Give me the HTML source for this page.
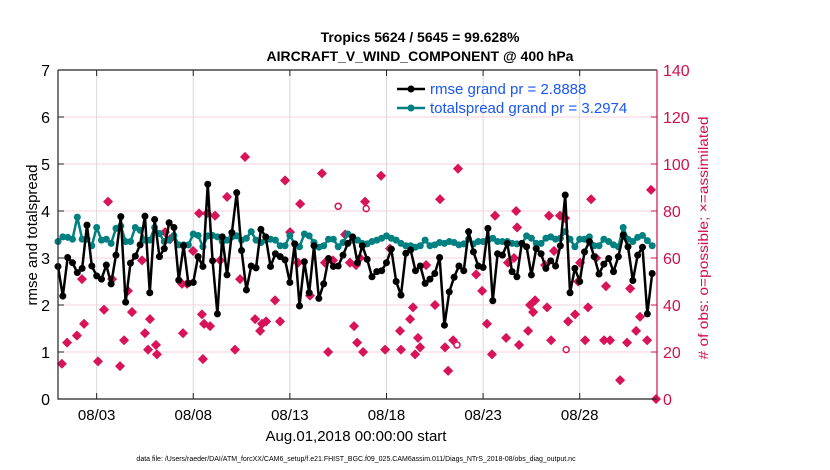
<!DOCTYPE html>
<html><head><meta charset="utf-8">
<style>
html,body{margin:0;padding:0;background:#fff;}
svg{display:block;font-family:"Liberation Sans",sans-serif;}
</style></head>
<body>
<svg id="chart" width="830" height="470" viewBox="0 0 830 470">
<text x="420" y="42" text-anchor="middle" font-size="14" font-weight="bold">Tropics 5624 / 5645 = 99.628%</text>
<text x="420" y="61" text-anchor="middle" font-size="14" font-weight="bold">AIRCRAFT_V_WIND_COMPONENT @ 400 hPa</text>
<g id="grid"></g>
<g id="obs"></g>
<g id="lines"></g>
<g id="axes"></g>
<text transform="translate(37,235) rotate(-90)" text-anchor="middle" font-size="15">rmse and totalspread</text>
<text transform="translate(708,238) rotate(-90)" text-anchor="middle" font-size="14" fill="#d0104c" textLength="243" lengthAdjust="spacingAndGlyphs"># of obs: o=possible; ×=assimilated</text>
<text x="356" y="441" text-anchor="middle" font-size="15">Aug.01,2018 00:00:00 start</text>
<text x="356" y="461" text-anchor="middle" font-size="7">data file: /Users/raeder/DAI/ATM_forcXX/CAM6_setup/f.e21.FHIST_BGC.f09_025.CAM6assim.011/Diags_NTrS_2018-08/obs_diag_output.nc</text>
<g>
<line x1="397" y1="89" x2="425" y2="89" stroke="#000" stroke-width="2.5"/>
<circle cx="411" cy="89" r="3.5" fill="#000"/>
<text x="430" y="94" font-size="15" fill="#1a55f5">rmse grand pr = 2.8888</text>
<line x1="397" y1="108" x2="425" y2="108" stroke="#008080" stroke-width="2.5"/>
<circle cx="411" cy="108" r="3.5" fill="#008080"/>
<text x="430" y="113" font-size="15" fill="#1a55f5">totalspread grand pr = 3.2974</text>
</g>
</svg>
<script>
const xTickDays = [2,7,12,17,22,27];
const xTickLabels = ["08/03","08/08","08/13","08/18","08/23","08/28"];
const yTicks = [0,1,2,3,4,5,6,7];
const y2Ticks = [0,20,40,60,80,100,120,140];
const rmse = [2.82,2.19,3.01,2.90,2.69,2.78,3.70,2.83,2.62,2.55,2.85,2.45,3.06,3.88,2.06,2.89,3.04,3.28,3.89,2.26,3.82,3.03,3.20,3.75,3.65,2.53,3.26,2.46,2.48,3.03,2.82,
4.57,2.94,1.81,3.45,2.64,3.54,4.39,3.16,2.32,2.83,2.79,3.61,3.45,2.82,3.09,3.03,2.96,2.48,3.30,1.98,2.92,2.26,3.26,2.14,2.45,2.99,2.82,2.83,3.06,3.31,
3.45,2.90,3.26,2.97,2.60,2.71,2.73,2.90,3.19,2.50,2.21,3.10,3.17,2.73,2.83,2.46,2.55,2.67,3.01,1.57,2.28,2.59,2.83,2.73,3.56,3.13,2.83,2.80,3.63,2.09,3.09,
3.06,3.31,2.71,2.60,3.31,3.24,2.64,3.20,3.09,2.78,2.94,2.83,3.26,4.34,2.26,2.78,2.50,3.13,3.35,3.03,2.66,2.87,2.99,2.71,3.03,3.49,3.24,2.52,3.06,3.23,1.81,2.67];
const spread = [3.35,3.45,3.44,3.40,3.87,3.40,3.40,3.26,3.65,3.38,3.40,3.31,3.63,3.68,3.35,3.35,3.65,3.59,3.38,3.38,3.65,3.52,3.35,3.38,3.48,3.28,3.28,3.28,3.51,3.48,3.24,
3.47,3.48,3.45,3.35,3.38,3.45,3.47,3.38,3.42,3.56,3.38,3.33,3.38,3.40,3.38,3.26,3.26,3.48,3.30,3.24,3.51,3.47,3.33,3.23,3.26,3.40,3.40,3.24,3.33,3.51,
3.38,3.38,3.31,3.30,3.35,3.38,3.42,3.47,3.42,3.38,3.31,3.26,3.26,3.23,3.26,3.38,3.26,3.28,3.33,3.31,3.35,3.33,3.28,3.30,3.40,3.30,3.35,3.35,3.38,3.42,3.35,
3.35,3.35,3.31,3.30,3.30,3.47,3.42,3.31,3.31,3.42,3.45,3.40,3.42,3.56,3.40,3.24,3.40,3.40,3.45,3.26,3.26,3.40,3.35,3.28,3.24,3.65,3.40,3.35,3.44,3.48,3.37,3.26];
const obsDay = [0.2,0.47,0.98,1.24,1.35,2.07,2.38,2.59,2.8,3.21,3.42,3.62,3.83,4.35,4.5,4.66,4.76,5.07,5.12,5.54,5.8,6.42,6.47,6.68,6.99,7.3,7.45,7.5,7.56,7.71,7.87,8.13,8.39,8.75,9.16,9.42,9.68,10.2,10.46,10.56,10.77,11.23,11.49,11.75,12.01,12.42,12.53,13.04,13.66,13.82,14.23,13.98,14.86,15.11,15.32,15.42,15.48,15.63,15.79,15.89,16.72,16.93,17.18,17.7,17.75,18.22,18.37,18.48,18.63,18.74,19.05,19.51,19.77,20.03,20.19,20.45,20.7,21.64,21.95,22.2,22.46,22.62,23.19,23.29,23.6,23.71,23.76,23.86,24.33,24.43,24.59,24.69,25.21,25.31,25.41,25.52,25.67,25.98,26.24,26.4,26.76,26.92,27.02,27.28,27.43,27.59,27.85,28.26,28.36,28.57,29.09,29.45,29.61,29.92,30.12,30.49,30.69,30.95];
const obsCount = [15,24,27,51,32,16,38,84,51,14,25,46,37,59,28,21,34,23,19,71,68,49,28,49,63,79,36,17,32,79,31,78,59,86,21,51,103,34,29,32,33,42,33,93,71,58,83,44,96,58,59,20,70,58,31,57,24,60,20,84,95,21,64,29,21,34,39,19,26,22,57,40,85,22,12,25,98,53,46,32,19,78,26,58,60,80,73,23,29,40,37,42,57,39,78,25,63,78,77,33,36,50,58,25,39,85,60,25,48,25,8,24,47,29,35,25,89,0];
const possDay = [14.5,15.95,20.65,26.3];
const possCount = [82,81,23,21];

const NS="http://www.w3.org/2000/svg";
const L=58,R=657,T=70,B=399,DAYS=31;
const xS=d=>L+(R-L)*d/DAYS;
const yS=v=>B-(B-T)*v/7;
const y2S=v=>B-(B-T)*v/140;
function mk(tag,attrs,parent){const e=document.createElementNS(NS,tag);for(const k in attrs)e.setAttribute(k,attrs[k]);parent.appendChild(e);return e;}
const grid=document.getElementById('grid'),axes=document.getElementById('axes'),obs=document.getElementById('obs'),lines=document.getElementById('lines');

xTickDays.forEach((d,i)=>{
  const g=mk('line',{x1:xS(d),x2:xS(d),y1:T,y2:B,stroke:'#d8d8d8','stroke-width':1},grid);
  
  
  const t1=mk('line',{x1:xS(d),x2:xS(d),y1:B,y2:B-6,stroke:'#222'},axes);
  
  
  const t2=mk('line',{x1:xS(d),x2:xS(d),y1:T,y2:T+6,stroke:'#222'},axes);
  
  
  const lb=mk('text',{x:xS(d),y:B+21,'text-anchor':'middle','font-size':15},axes);
  lb.textContent=xTickLabels[i];
  
  
});
y2Ticks.forEach(v=>{
  if(v>0&&v<140){const g=mk('line',{x1:L,x2:R,y1:y2S(v),y2:y2S(v),stroke:'#f4d0dc','stroke-width':1},grid);
  
  }
  const t=mk('line',{x1:R,x2:R-6,y1:y2S(v),y2:y2S(v),stroke:'#d0104c'},axes);
  
  
  const lb=mk('text',{x:R+6,y:y2S(v)+6,'font-size':16,fill:'#d0104c'},axes);
  lb.textContent=v;
  
  
});
yTicks.forEach(v=>{
  const t=mk('line',{x1:L,x2:L+6,y1:yS(v),y2:yS(v),stroke:'#222'},axes);
  
  
  const lb=mk('text',{x:L-8,y:yS(v)+6,'text-anchor':'end','font-size':16},axes);
  lb.textContent=v;
  
  
});
const ax1=mk('path',{d:`M${L},${T}V${B}H${R}M${L},${T}H${R}`,stroke:'#222',fill:'none','stroke-width':1.2},axes);


const ax2=mk('line',{x1:R,x2:R,y1:T,y2:B,stroke:'#d0104c','stroke-width':1.2},axes);



obsDay.forEach((d,i)=>{
  const x=xS(d),y=y2S(obsCount[i]);
  const p=mk('path',{d:`M${x},${y-4.5}L${x+4.5},${y}L${x},${y+4.5}L${x-4.5},${y}Z`,fill:'#d8135a',stroke:'#d8135a','stroke-width':0.8,'stroke-linejoin':'round'},obs);
  
  
});
possDay.forEach((d,i)=>{
  const c=mk('circle',{cx:xS(d),cy:y2S(possCount[i]),r:3,fill:'none',stroke:'#d8135a','stroke-width':1.5},obs);
  
  
});

function series(vals,color,name){
  const pts=vals.map((v,i)=>[xS(i*0.25),yS(v)]);
  const pl=mk('polyline',{points:pts.map(p=>p.join(',')).join(' '),fill:'none',stroke:color,'stroke-width':2.5,'stroke-linejoin':'round'},lines);
  
  
  pts.forEach(p=>{
    const c=mk('circle',{cx:p[0],cy:p[1],r:3.5,fill:color},lines);
    
    
  });
}
series(spread,'#008080','totalspread');
series(rmse,'#000000','rmse');
</script>
</body></html>
